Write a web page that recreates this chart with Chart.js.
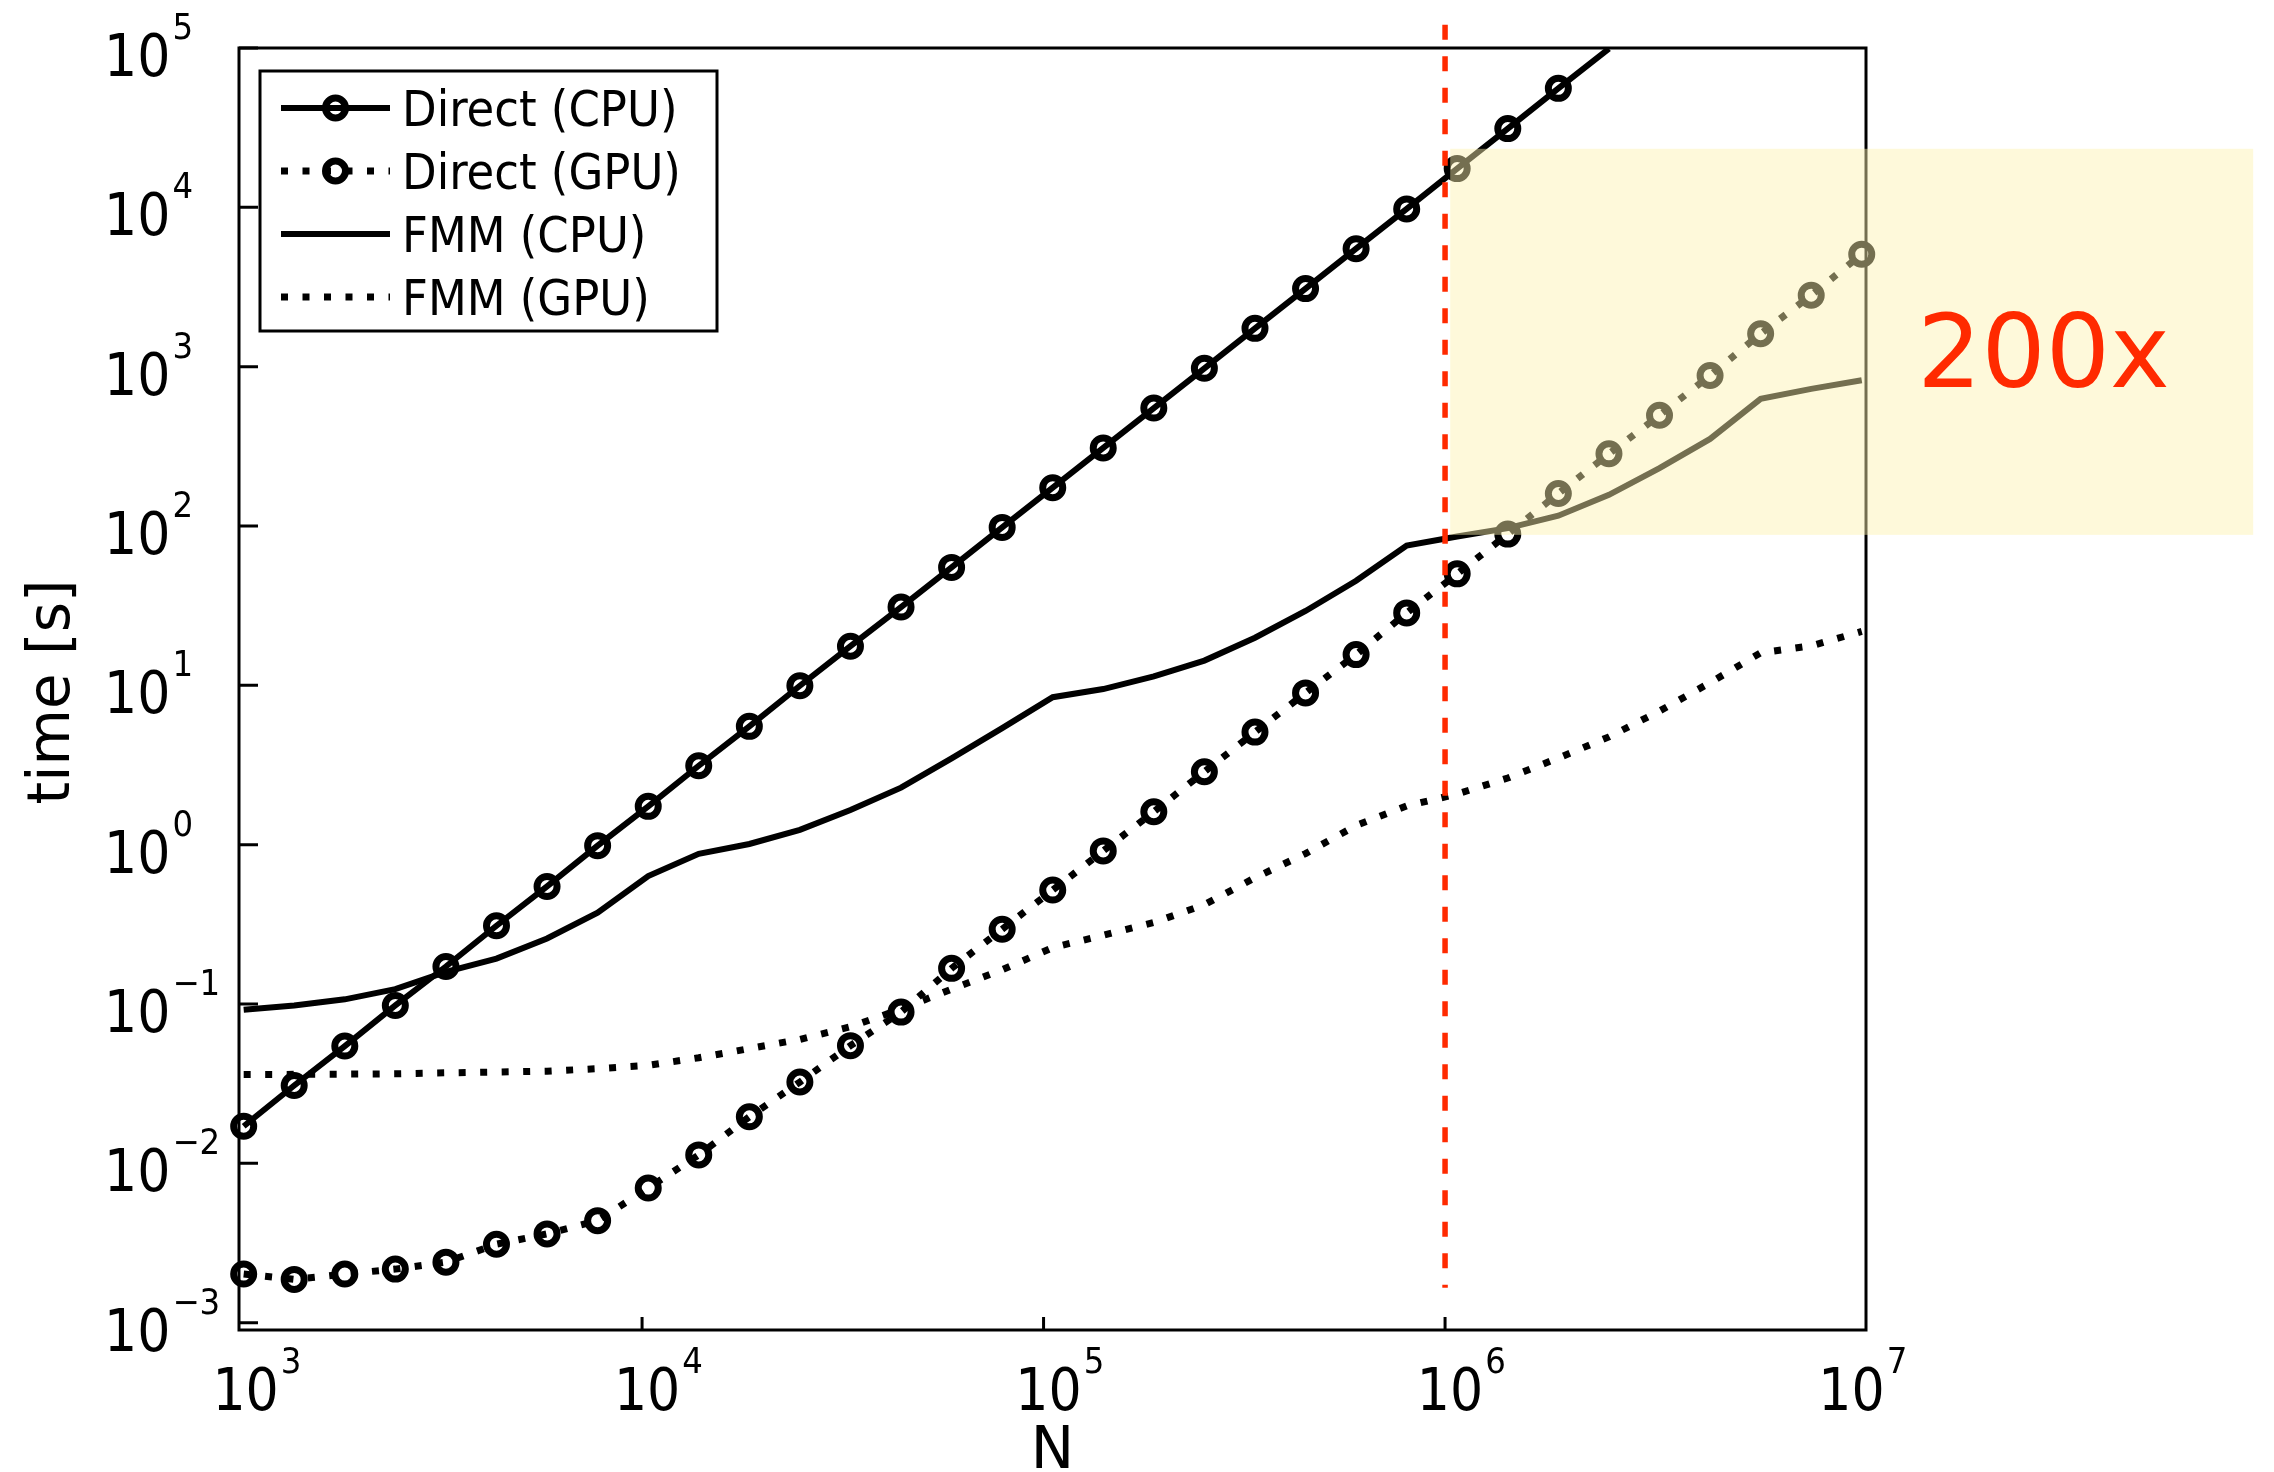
<!DOCTYPE html>
<html lang="en">
<head>
<meta charset="UTF-8">
<title>Direct vs FMM timings</title>
<script src="https://cdn.jsdelivr.net/npm/chart.js"></script>
<style>
  html, body { margin: 0; padding: 0; background: #fff; }
  .chart-box { width: 2274px; height: 1472px; position: relative; }
</style>
</head>
<body>
<div class="chart-box"><canvas id="timing"></canvas></div>
<script>
// problem size N
const nValues = [1018, 1360, 1818, 2429, 3247, 4339, 5799, 7750, 10360, 13840, 18500, 24720,
  33040, 44160, 59010, 78870, 105400, 140800, 188200, 251500, 336200, 449300, 600400, 802500,
  1072000, 1433000, 1915000, 2560000, 3421000, 4572000, 6110000, 8166000, 10910000];

// time [s] per run
const directCpu = [0.0171, 0.0308, 0.0545, 0.098, 0.172, 0.31, 0.547, 0.986, 1.74, 3.13, 5.53, 9.94,
  17.6, 31.0, 55.0, 98.0, 174, 309, 550, 977, 1740, 3090, 5500, 9770, 17500, 31200, 55800, 99000];
const directGpu = [0.00202, 0.00187, 0.00202, 0.00217, 0.0024, 0.00311, 0.00361, 0.00437, 0.0070,
  0.0113, 0.0196, 0.0324, 0.0548, 0.089, 0.1675, 0.295, 0.519, 0.914, 1.61, 2.87, 5.09, 8.97, 15.6,
  28.5, 50.1, 89.0, 160, 284, 496, 881, 1610, 2810, 5080];
const fmmCpu = [0.092, 0.098, 0.107, 0.124, 0.159, 0.193, 0.258, 0.375, 0.635, 0.877, 1.01, 1.24,
  1.65, 2.28, 3.48, 5.39, 8.43, 9.48, 11.4, 14.3, 19.9, 29.3, 45.3, 75.5, 86, 97, 116, 157, 231,
  352, 628, 726, 821];
const fmmGpu = [0.0361, 0.0362, 0.0363, 0.0365, 0.037, 0.0374, 0.0379, 0.0393, 0.0412, 0.046,
  0.0525, 0.06, 0.072, 0.093, 0.124, 0.164, 0.226, 0.27, 0.325, 0.42, 0.62, 0.88, 1.32, 1.75,
  2.08, 2.62, 3.5, 4.75, 6.9, 10.4, 16.0, 17.7, 21.8];

const seriesNames = ['Direct (CPU)', 'Direct (GPU)', 'FMM (CPU)', 'FMM (GPU)'];
const xTicks = [1e3, 1e4, 1e5, 1e6, 1e7];
const yTicks = [1e-3, 1e-2, 1e-1, 1e0, 1e1, 1e2, 1e3, 1e4, 1e5];

// 1M crossover line, shaded region and speedup note
const crossoverN = 1e6;
const crossoverSpan = [1.66e-3, 1.4e5];
const shadeN = [1.03e6, 1.03e8];
const shadeT = [88, 2.33e4];
const speedupText = '200x';
const speedupAt = [1.5e7, 750];

const RED = '#ff2a00';
const DOTS = [7, 14.5];
const TICK_FONT = '"DejaVu Sans Condensed", "DejaVu Sans", sans-serif';
const TITLE_FONT = '"DejaVu Sans", sans-serif';

function series(label, values, dotted, marker, hideLast) {
  return {
    label: label,
    data: values.map((t, i) => ({ x: nValues[i], y: t })),
    borderColor: '#000',
    borderWidth: dotted ? 7 : 6,
    borderDash: dotted ? DOTS : [],
    borderCapStyle: 'butt',
    tension: 0,
    fill: false,
    pointStyle: 'circle',
    pointRadius: marker ? (c) => (hideLast && c.dataIndex === values.length - 1 ? 0 : 10) : 0,
    pointBorderWidth: 7,
    pointBorderColor: '#000',
    pointBackgroundColor: 'rgba(0,0,0,0)',
    clip: { left: 24, top: 0, right: 24, bottom: 24 },
    _marker: marker
  };
}

// "10" with a raised exponent
function drawPower(ctx, exp, x, y, align) {
  ctx.font = '58px ' + TICK_FONT;
  const w = ctx.measureText('10').width;
  const left = align === 'center' ? x - w / 2 : x;
  ctx.textAlign = 'left';
  ctx.textBaseline = 'alphabetic';
  ctx.fillText('10', left, y);
  ctx.font = '36px ' + TICK_FONT;
  ctx.fillText(String(exp).replace('-', '\u2212'), left + w + 2, y - 37);
}

const frameAndTicks = {
  id: 'frameAndTicks',
  beforeDatasetsDraw(chart) {
    const { ctx, chartArea: a } = chart;
    const xs = chart.scales.x, ys = chart.scales.y;
    ctx.save();
    ctx.strokeStyle = '#000';
    ctx.lineWidth = 3;
    ctx.beginPath();
    xTicks.slice(1, -1).forEach(v => {
      const px = xs.getPixelForValue(v);
      ctx.moveTo(px, a.bottom);
      ctx.lineTo(px, a.bottom - 13);
    });
    yTicks.forEach(v => {
      const py = ys.getPixelForValue(v);
      ctx.moveTo(a.left, py);
      ctx.lineTo(a.left + 19, py);
    });
    ctx.stroke();
    ctx.strokeRect(a.left, a.top, a.right - a.left, a.bottom - a.top);

    // tick labels
    ctx.fillStyle = '#000';
    xTicks.forEach(v => {
      drawPower(ctx, Math.round(Math.log10(v)), xs.getPixelForValue(v) + 5, a.bottom + 80, 'center');
    });
    yTicks.forEach(v => {
      drawPower(ctx, Math.round(Math.log10(v)), a.left - 135, ys.getPixelForValue(v) + 28, 'left');
    });

    // axis titles
    ctx.font = '58px ' + TITLE_FONT;
    ctx.textAlign = 'center';
    ctx.textBaseline = 'alphabetic';
    ctx.fillText('N', (a.left + a.right) / 2, a.bottom + 138);
    ctx.translate(69, (a.top + a.bottom) / 2 + 3);
    ctx.rotate(-Math.PI / 2);
    ctx.fillText('time [s]', 0, 0);
    ctx.restore();
  }
};

const notes = {
  id: 'notes',
  afterDatasetsDraw(chart) {
    const { ctx } = chart;
    const xs = chart.scales.x, ys = chart.scales.y;
    ctx.save();

    // crossover at N = 10^6
    const cx = xs.getPixelForValue(crossoverN);
    ctx.strokeStyle = RED;
    ctx.lineWidth = 5.5;
    ctx.setLineDash([15, 16.5]);
    ctx.beginPath();
    ctx.moveTo(cx, ys.getPixelForValue(crossoverSpan[1]));
    ctx.lineTo(cx, ys.getPixelForValue(crossoverSpan[0]));
    ctx.stroke();
    ctx.setLineDash([]);

    // legend
    const lx = 260, ly = 71, lw = 457, lh = 260;
    ctx.fillStyle = '#fff';
    ctx.fillRect(lx, ly, lw, lh);
    ctx.strokeStyle = '#000';
    ctx.lineWidth = 3;
    ctx.strokeRect(lx, ly, lw, lh);
    chart.data.datasets.forEach((ds, i) => {
      const y = 108 + i * 63;
      ctx.strokeStyle = '#000';
      ctx.lineWidth = ds.borderWidth;
      ctx.lineCap = 'butt';
      ctx.setLineDash(ds.borderDash);
      ctx.beginPath();
      ctx.moveTo(281, y);
      ctx.lineTo(390, y);
      ctx.stroke();
      ctx.setLineDash([]);
      if (ds._marker) {
        ctx.lineWidth = ds.pointBorderWidth;
        ctx.beginPath();
        ctx.arc(335.5, y, 10, 0, Math.PI * 2);
        ctx.stroke();
      }
      ctx.fillStyle = '#000';
      ctx.font = '50px ' + TICK_FONT;
      ctx.textAlign = 'left';
      ctx.textBaseline = 'alphabetic';
      ctx.fillText(seriesNames[i], 402, y + 18);
    });

    // shaded region
    const x1 = xs.getPixelForValue(shadeN[0]), x2 = xs.getPixelForValue(shadeN[1]);
    const y1 = ys.getPixelForValue(shadeT[1]), y2 = ys.getPixelForValue(shadeT[0]);
    ctx.fillStyle = 'rgba(252, 242, 175, 0.46)';
    ctx.fillRect(x1, y1, x2 - x1, y2 - y1);

    ctx.fillStyle = RED;
    ctx.font = '101px ' + TITLE_FONT;
    ctx.textAlign = 'left';
    ctx.textBaseline = 'alphabetic';
    ctx.fillText(speedupText, xs.getPixelForValue(speedupAt[0]), ys.getPixelForValue(speedupAt[1]));
    ctx.restore();
  }
};

new Chart(document.getElementById('timing'), {
  type: 'line',
  data: {
    datasets: [
      series(seriesNames[0], directCpu, false, true, true),
      series(seriesNames[1], directGpu, true, true, false),
      series(seriesNames[2], fmmCpu, false, false, false),
      series(seriesNames[3], fmmGpu, true, false, false)
    ]
  },
  options: {
    responsive: true,
    maintainAspectRatio: false,
    devicePixelRatio: 1,
    animation: false,
    layout: { padding: { left: 239, top: 48, right: 408, bottom: 142 } },
    scales: {
      x: { type: 'logarithmic', display: false, bounds: 'data', min: 991, max: 1.118e7 },
      y: { type: 'logarithmic', display: false, bounds: 'data', min: 9.0e-4, max: 1e5 }
    },
    plugins: {
      legend: { display: false },
      tooltip: { enabled: false }
    }
  },
  plugins: [frameAndTicks, notes]
});
</script>
</body>
</html>
